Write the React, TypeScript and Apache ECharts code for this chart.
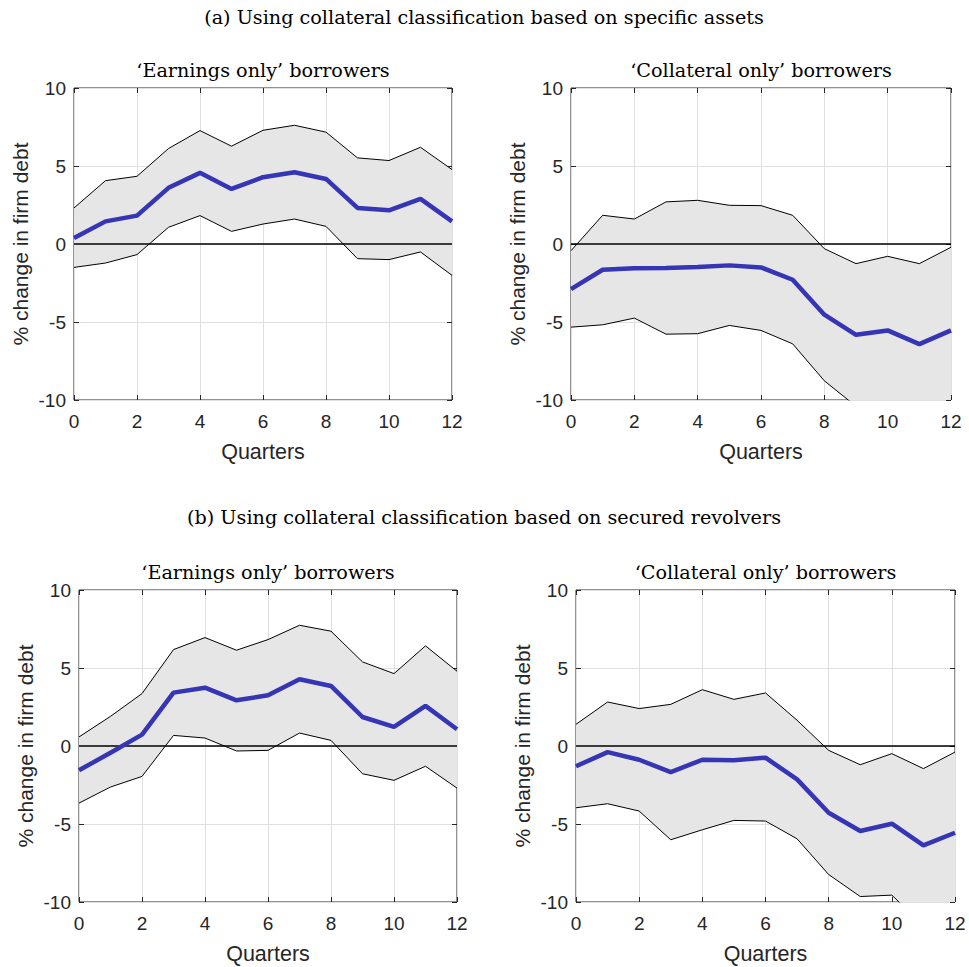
import React, { useEffect, useRef } from "react";
import * as echarts from "echarts";

const quarters = [0, 1, 2, 3, 4, 5, 6, 7, 8, 9, 10, 11, 12];

const aEarnMean = [0.38, 1.45, 1.82, 3.6, 4.56, 3.53, 4.28, 4.6, 4.17, 2.31, 2.16, 2.89, 1.45];
const aEarnUpper = [2.31, 4.06, 4.34, 6.12, 7.27, 6.27, 7.29, 7.61, 7.17, 5.52, 5.35, 6.2, 4.77];
const aEarnLower = [-1.5, -1.22, -0.68, 1.07, 1.82, 0.81, 1.28, 1.6, 1.13, -0.94, -1.0, -0.51, -2.01];

const aCollMean = [-2.89, -1.65, -1.56, -1.54, -1.48, -1.37, -1.5, -2.29, -4.53, -5.82, -5.54, -6.42, -5.54];
const aCollUpper = [-0.43, 1.84, 1.6, 2.7, 2.8, 2.48, 2.46, 1.84, -0.3, -1.26, -0.79, -1.26, -0.21];
const aCollLower = [-5.33, -5.18, -4.75, -5.78, -5.75, -5.22, -5.54, -6.4, -8.77, -10.4, -11.0, -11.6, -11.2];

const bEarnMean = [-1.56, -0.43, 0.73, 3.42, 3.74, 2.93, 3.25, 4.28, 3.85, 1.86, 1.22, 2.57, 1.07];
const bEarnUpper = [0.58, 1.9, 3.36, 6.18, 6.95, 6.14, 6.82, 7.74, 7.36, 5.39, 4.64, 6.42, 4.79];
const bEarnLower = [-3.66, -2.63, -1.95, 0.68, 0.51, -0.32, -0.28, 0.83, 0.36, -1.78, -2.2, -1.3, -2.7];

const bCollMean = [-1.3, -0.39, -0.88, -1.67, -0.88, -0.92, -0.75, -2.14, -4.28, -5.45, -4.98, -6.37, -5.56];
const bCollUpper = [1.39, 2.82, 2.4, 2.67, 3.61, 2.99, 3.4, 1.65, -0.28, -1.2, -0.49, -1.45, -0.39];
const bCollLower = [-3.96, -3.7, -4.17, -6.01, -5.37, -4.77, -4.81, -5.95, -8.24, -9.65, -9.56, -11.5, -11.0];

const yTicks = [-10, -5, 0, 5, 10];
const xTicks = [0, 2, 4, 6, 8, 10, 12];

const sectionTitles = [
  "(a) Using collateral classification based on specific assets",
  "(b) Using collateral classification based on secured revolvers",
];
const panelTitles = ["\u2018Earnings only\u2019 borrowers", "\u2018Collateral only\u2019 borrowers"];
const xName = "Quarters";
const yName = "% change in firm debt";

const panels = [
  { mean: aEarnMean, upper: aEarnUpper, lower: aEarnLower, title: panelTitles[0], grid: { left: 74, top: 88, width: 378, height: 312 } },
  { mean: aCollMean, upper: aCollUpper, lower: aCollLower, title: panelTitles[1], grid: { left: 571, top: 88, width: 380, height: 312 } },
  { mean: bEarnMean, upper: bEarnUpper, lower: bEarnLower, title: panelTitles[0], grid: { left: 79, top: 590, width: 378, height: 312 } },
  { mean: bCollMean, upper: bCollUpper, lower: bCollLower, title: panelTitles[1], grid: { left: 576, top: 590, width: 379, height: 312 } },
];

const AXIS_COLOR = "#262626";
const SANS = "'Liberation Sans', Arial, Helvetica, sans-serif";
const SERIF = "'DejaVu Serif', 'Liberation Serif', serif";

export default function App() {
  const ref = useRef<HTMLDivElement>(null);
  useEffect(() => {
    if (!ref.current) return;
    const chart = echarts.init(ref.current, undefined, { renderer: "svg" });
    const grids: any[] = [];
    const xAxes: any[] = [];
    const yAxes: any[] = [];
    const series: any[] = [];
    const graphics: any[] = [];

    const yMin = yTicks[0];
    const yMax = yTicks[yTicks.length - 1];
    const xMin = xTicks[0];
    const xMax = xTicks[xTicks.length - 1];

    const tick = { show: true, inside: true, length: 5, lineStyle: { color: AXIS_COLOR } };
    const noLine = { show: false, onZero: false };

    panels.forEach((p, i) => {
      grids.push({
        ...p.grid,
        show: true,
        borderColor: AXIS_COLOR,
        borderWidth: 1,
        backgroundColor: "#ffffff",
      });
      const xi = xAxes.length;
      xAxes.push({
        type: "value",
        gridIndex: i,
        min: xMin,
        max: xMax,
        interval: 2,
        position: "bottom",
        name: xName,
        nameLocation: "middle",
        nameGap: 41,
        nameTextStyle: { fontFamily: SANS, fontSize: 21.5, color: AXIS_COLOR },
        axisLine: noLine,
        axisTick: tick,
        axisLabel: { fontFamily: SANS, fontSize: 19, color: AXIS_COLOR, margin: 12 },
        splitLine: { show: true, lineStyle: { color: "#dfdfdf", width: 1 } },
      });
      xAxes.push({
        type: "value",
        gridIndex: i,
        min: xMin,
        max: xMax,
        interval: 2,
        position: "top",
        axisLine: noLine,
        axisTick: tick,
        axisLabel: { show: false },
        splitLine: { show: false },
      });
      const yi = yAxes.length;
      yAxes.push({
        type: "value",
        gridIndex: i,
        min: yMin,
        max: yMax,
        interval: 5,
        position: "left",
        name: yName,
        nameLocation: "middle",
        nameGap: 43,
        nameRotate: 90,
        nameTextStyle: { fontFamily: SANS, fontSize: 21, color: AXIS_COLOR },
        axisLine: noLine,
        axisTick: tick,
        axisLabel: { fontFamily: SANS, fontSize: 19, color: AXIS_COLOR, margin: 8 },
        splitLine: { show: true, lineStyle: { color: "#dfdfdf", width: 1 } },
      });
      yAxes.push({
        type: "value",
        gridIndex: i,
        min: yMin,
        max: yMax,
        interval: 5,
        position: "right",
        axisLine: noLine,
        axisTick: tick,
        axisLabel: { show: false },
        splitLine: { show: false },
      });

      const lowerPts = quarters.map((q, k) => [q, p.lower[k]]);
      const upperPts = quarters.map((q, k) => [q, p.upper[k]]);
      const meanPts = quarters.map((q, k) => [q, p.mean[k]]);
      const bandData = quarters.map((q, k) => [q, p.lower[k], p.upper[k]]);

      series.push({
        type: "custom",
        xAxisIndex: xi,
        yAxisIndex: yi,
        data: bandData,
        silent: true,
        z: 1,
        renderItem: (params: any, api: any) => {
          if (params.dataIndex !== 0) return null;
          const top = quarters.map((q, k) => api.coord([q, p.upper[k]]));
          const bottom = quarters.map((q, k) => api.coord([q, p.lower[k]])).reverse();
          const cs = params.coordSys;
          return {
            type: "polygon",
            shape: { points: top.concat(bottom) },
            style: { fill: "#e6e6e6", stroke: "none" },
            clipPath: { type: "rect", shape: { x: cs.x, y: cs.y, width: cs.width, height: cs.height } },
          };
        },
      });
      series.push({
        type: "line",
        xAxisIndex: xi,
        yAxisIndex: yi,
        data: [[xMin, 0], [xMax, 0]],
        symbol: "none",
        lineStyle: { color: "#000000", width: 1.5 },
        silent: true,
        z: 2,
      });
      series.push({
        type: "line",
        xAxisIndex: xi,
        yAxisIndex: yi,
        data: upperPts,
        symbol: "none",
        lineStyle: { color: "#000000", width: 1 },
        silent: true,
        z: 3,
      });
      series.push({
        type: "line",
        xAxisIndex: xi,
        yAxisIndex: yi,
        data: lowerPts,
        symbol: "none",
        lineStyle: { color: "#000000", width: 1 },
        silent: true,
        z: 3,
      });
      series.push({
        type: "line",
        xAxisIndex: xi,
        yAxisIndex: yi,
        data: meanPts,
        symbol: "none",
        lineStyle: { color: "#3535b5", width: 4.5 },
        silent: true,
        z: 4,
      });

      graphics.push({
        type: "text",
        x: p.grid.left + p.grid.width / 2,
        y: p.grid.top - 18,
        style: {
          text: p.title,
          fontFamily: SERIF,
          fontSize: 19.2,
          fill: "#000000",
          align: "center",
          verticalAlign: "middle",
        },
      });
    });

    graphics.push({
      type: "text",
      x: 484,
      y: 17,
      style: { text: sectionTitles[0], fontFamily: SERIF, fontSize: 19.2, fill: "#000000", align: "center", verticalAlign: "middle" },
    });
    graphics.push({
      type: "text",
      x: 484,
      y: 517,
      style: { text: sectionTitles[1], fontFamily: SERIF, fontSize: 19.2, fill: "#000000", align: "center", verticalAlign: "middle" },
    });

    chart.setOption({
      animation: false,
      backgroundColor: "#ffffff",
      grid: grids,
      xAxis: xAxes,
      yAxis: yAxes,
      series,
      graphic: graphics,
    });
    return () => chart.dispose();
  }, []);
  return (
    <div
      ref={ref}
      style={{ position: "absolute", left: 0, top: 0, width: 969, height: 967 }}
    />
  );
}
